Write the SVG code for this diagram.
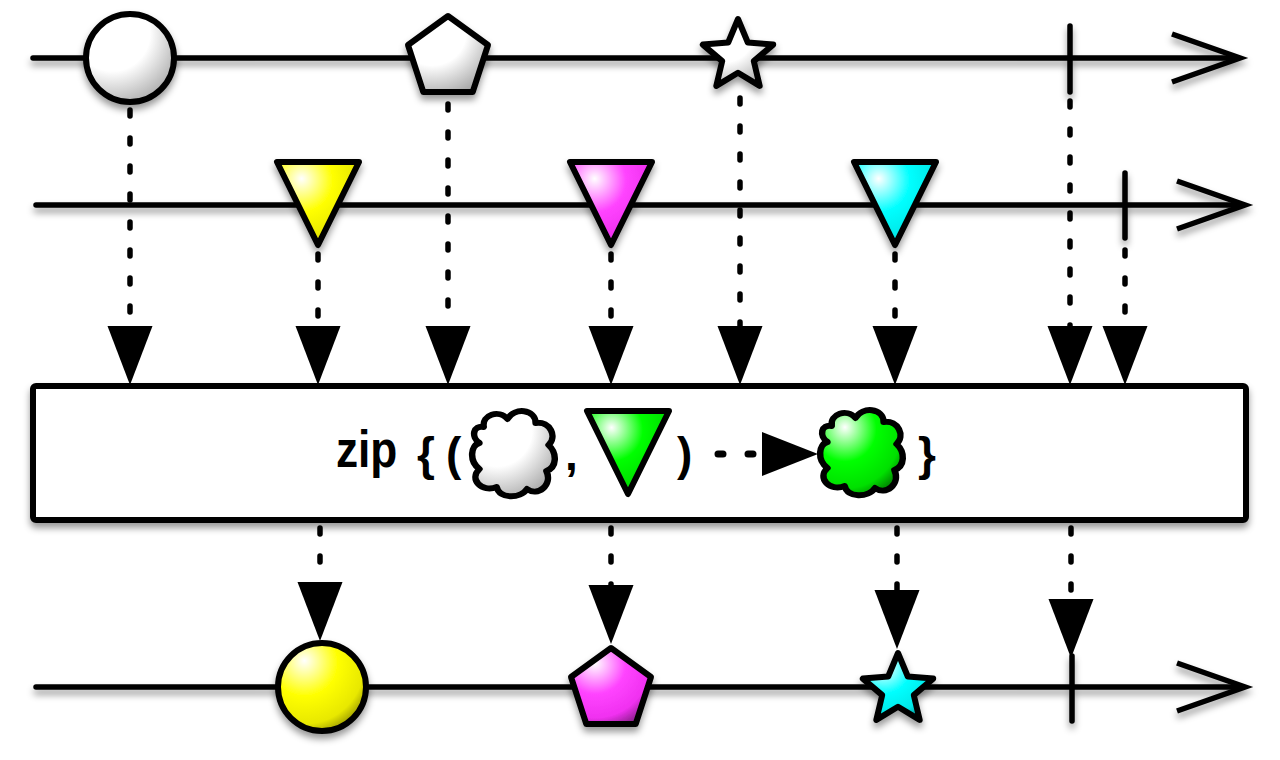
<svg xmlns="http://www.w3.org/2000/svg" xmlns:xlink="http://www.w3.org/1999/xlink" width="1280" height="760" viewBox="0 0 1280 760">
<style>
.tl{fill:none;stroke:#000;stroke-width:5.5;stroke-linecap:round}
.chev{fill:none;stroke:#000;stroke-width:5.5;stroke-linejoin:miter;stroke-linecap:butt}
.tick{stroke:#000;stroke-width:5.5;stroke-linecap:round}
.shape{stroke:#000;stroke-width:6;stroke-linejoin:round}
.dot{fill:none;stroke:#000;stroke-width:5.5;stroke-linecap:round;stroke-dasharray:6 22}
.lbl{font-family:"Liberation Sans",Arial,sans-serif;font-weight:bold;font-size:46px;fill:#000}
</style>
<defs>
<filter id="sh" filterUnits="userSpaceOnUse" x="0" y="0" width="1280" height="760">
<feDropShadow dx="0" dy="5" stdDeviation="3.5" flood-color="#000" flood-opacity="0.4"/>
</filter>
<radialGradient id="gW" cx="0.3" cy="0.25" r="0.85" fx="0.3" fy="0.2"><stop offset="0" stop-color="#fff"/><stop offset="0.5" stop-color="#fff"/><stop offset="1" stop-color="#a8a8a8"/></radialGradient>
<radialGradient id="gY" cx="0.3" cy="0.25" r="0.85" fx="0.3" fy="0.2"><stop offset="0" stop-color="#fff"/><stop offset="0.45" stop-color="#ffff00"/><stop offset="0.8" stop-color="#e8e800"/><stop offset="1" stop-color="#8a8a00"/></radialGradient>
<radialGradient id="gM" cx="0.3" cy="0.25" r="0.85" fx="0.3" fy="0.2"><stop offset="0" stop-color="#fff"/><stop offset="0.45" stop-color="#ff44ff"/><stop offset="0.8" stop-color="#f030f0"/><stop offset="1" stop-color="#902090"/></radialGradient>
<radialGradient id="gC" cx="0.3" cy="0.25" r="0.85" fx="0.3" fy="0.2"><stop offset="0" stop-color="#fff"/><stop offset="0.45" stop-color="#00ffff"/><stop offset="0.8" stop-color="#00e8e8"/><stop offset="1" stop-color="#008a8a"/></radialGradient>
<radialGradient id="gG" cx="0.3" cy="0.25" r="0.85" fx="0.3" fy="0.2"><stop offset="0" stop-color="#fff"/><stop offset="0.45" stop-color="#00ff00"/><stop offset="0.8" stop-color="#00e000"/><stop offset="1" stop-color="#007a00"/></radialGradient>
<marker id="ah" markerUnits="userSpaceOnUse" markerWidth="60" markerHeight="50" viewBox="0 -22 56 44" refX="0" refY="0" orient="auto">
<path d="M0,-21 L55,0 L0,21 z" fill="#000"/>
</marker>
<path id="star" d="M0,-37 L9.8,-13.5 L35.2,-11.4 L15.8,5.1 L21.7,29.9 L0,16.7 L-21.7,29.9 L-15.8,5.1 L-35.2,-11.4 L-9.8,-13.5 Z"/>
<path id="pent" d="M0,-42 L40,-13 L24.7,34 L-24.7,34 L-40,-13 Z"/>
<path id="tri" d="M-41,0 L41,0 L0,83 Z"/>
<path id="cloud" d="M-28,-26 C-30,-38 -14,-44 -6,-34 C0,-46 20,-44 20,-30 C34,-32 40,-16 32,-8 C40,0 40,14 30,18 C36,32 22,44 12,36 C6,46 -14,46 -16,34 C-30,40 -42,26 -32,16 C-42,8 -40,-8 -32,-10 C-40,-16 -38,-28 -28,-26 Z"/>
</defs>

<g id="connectors">
<line class="dot" x1="130" y1="110" x2="130" y2="326" marker-end="url(#ah)"/>
<line class="dot" x1="318" y1="254" x2="318" y2="326" marker-end="url(#ah)"/>
<line class="dot" x1="448" y1="104" x2="448" y2="326" marker-end="url(#ah)"/>
<line class="dot" x1="611" y1="254" x2="611" y2="326" marker-end="url(#ah)"/>
<line class="dot" x1="740" y1="98" x2="740" y2="326" marker-end="url(#ah)"/>
<line class="dot" x1="895" y1="254" x2="895" y2="326" marker-end="url(#ah)"/>
<line class="dot" x1="1070" y1="101" x2="1070" y2="326" marker-end="url(#ah)"/>
<line class="dot" x1="1125" y1="250" x2="1125" y2="326" marker-end="url(#ah)"/>
<line class="dot" x1="320" y1="528" x2="320" y2="582" marker-end="url(#ah)"/>
<line class="dot" x1="611" y1="528" x2="611" y2="585" marker-end="url(#ah)"/>
<line class="dot" x1="897" y1="528" x2="897" y2="590" marker-end="url(#ah)"/>
<line class="dot" x1="1071" y1="528" x2="1071" y2="599" marker-end="url(#ah)"/>
</g>

<g id="timeline-a" filter="url(#sh)">
<line class="tl" x1="33" y1="58" x2="1238" y2="58"/>
<polyline class="chev" points="1172,34 1240,58 1172,82"/>
<line class="tick" x1="1070" y1="26" x2="1070" y2="92"/>
</g>
<g id="timeline-b" filter="url(#sh)">
<line class="tl" x1="36" y1="205" x2="1243" y2="205"/>
<polyline class="chev" points="1177,181 1245,205 1177,229"/>
<line class="tick" x1="1125" y1="173" x2="1125" y2="238"/>
</g>
<g id="timeline-out" filter="url(#sh)">
<line class="tl" x1="36" y1="687" x2="1243" y2="687"/>
<polyline class="chev" points="1177,663 1245,687 1177,711"/>
<line class="tick" x1="1072" y1="656" x2="1072" y2="721"/>
</g>

<g id="a-circle" filter="url(#sh)"><circle class="shape" cx="130" cy="58" r="44" fill="url(#gW)"/></g>
<g id="a-pentagon" filter="url(#sh)"><use href="#pent" class="shape" fill="url(#gW)" transform="translate(448,58)"/></g>
<g id="a-star" filter="url(#sh)"><use href="#star" class="shape" fill="url(#gW)" transform="translate(738,56)"/></g>

<g id="b-yellow" filter="url(#sh)"><use href="#tri" class="shape" fill="url(#gY)" transform="translate(318,162)"/></g>
<g id="b-magenta" filter="url(#sh)"><use href="#tri" class="shape" fill="url(#gM)" transform="translate(611,162)"/></g>
<g id="b-cyan" filter="url(#sh)"><use href="#tri" class="shape" fill="url(#gC)" transform="translate(895,162)"/></g>

<g id="zip-box">
<rect x="33" y="386" width="1213" height="134" rx="3" fill="#fff" stroke="#000" stroke-width="6" filter="url(#sh)"/>
<text class="lbl" transform="translate(336,467) scale(0.85,1)" style="font-size:52px">zip</text>
<text class="lbl" x="417" y="470">{</text>
<text class="lbl" x="446" y="470">(</text>
<use href="#cloud" class="shape" fill="url(#gW)" transform="translate(514,453) scale(1.08,1)"/>
<text class="lbl" x="565" y="470">,</text>
<use href="#tri" class="shape" fill="url(#gG)" transform="translate(628,411)"/>
<text class="lbl" x="677" y="470">)</text>
<line x1="718" y1="454" x2="756" y2="454" stroke="#000" stroke-width="7" stroke-linecap="round" stroke-dasharray="5 25"/>
<path d="M762,432 L818,454 L762,476 Z" fill="#000"/>
<use href="#cloud" class="shape" fill="url(#gG)" transform="translate(862,452) scale(1.08,1)"/>
<text class="lbl" x="918" y="470">}</text>
</g>

<g id="out-circle" filter="url(#sh)"><circle class="shape" cx="322" cy="687" r="44" fill="url(#gY)"/></g>
<g id="out-pentagon" filter="url(#sh)"><use href="#pent" class="shape" fill="url(#gM)" transform="translate(611,690)"/></g>
<g id="out-star" filter="url(#sh)"><use href="#star" class="shape" fill="url(#gC)" transform="translate(898,690)"/></g>
</svg>
